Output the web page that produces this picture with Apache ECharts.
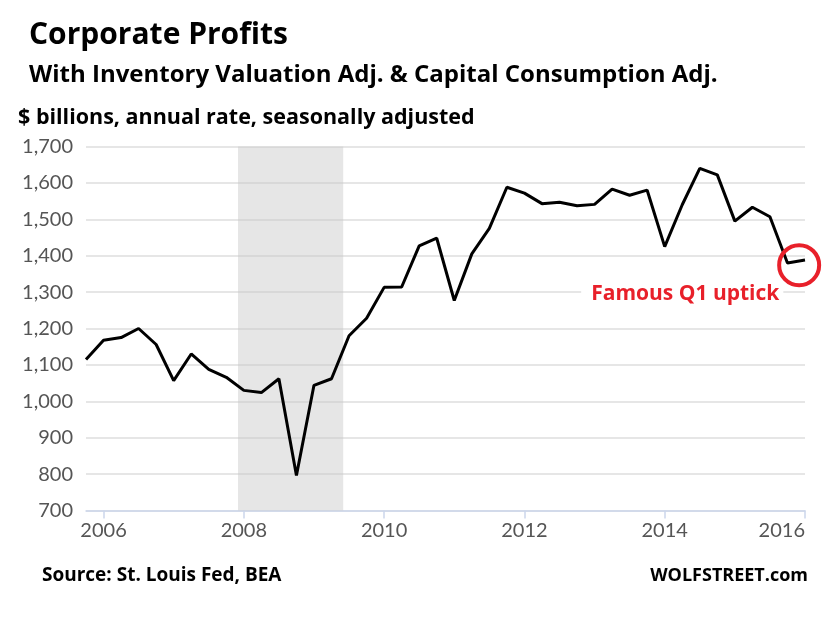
<!DOCTYPE html>
<html>
<head>
<meta charset="utf-8">
<script src="https://cdn.jsdelivr.net/npm/echarts@6/dist/echarts.min.js"></script>
<style>html,body{margin:0;padding:0;background:#fff}#c{width:840px;height:625px}</style>
</head>
<body>
<div id="c"></div>
<script>
// Quarter start dates (year-month)
const quarters = [
  '2005-10',
  '2006-01','2006-04','2006-07','2006-10',
  '2007-01','2007-04','2007-07','2007-10',
  '2008-01','2008-04','2008-07','2008-10',
  '2009-01','2009-04','2009-07','2009-10',
  '2010-01','2010-04','2010-07','2010-10',
  '2011-01','2011-04','2011-07','2011-10',
  '2012-01','2012-04','2012-07','2012-10',
  '2013-01','2013-04','2013-07','2013-10',
  '2014-01','2014-04','2014-07','2014-10',
  '2015-01','2015-04','2015-07','2015-10',
  '2016-01'
];
// Corporate profits, $ billions (annual rate, SA)
const profits = [
  1115,
  1168,1175,1200,1156,
  1057,1130,1088,1066,
  1030,1024,1062,796,
  1044,1062,1180,1228,
  1313,1314,1427,1448,
  1277,1405,1475,1588,
  1572,1543,1547,1537,
  1541,1583,1566,1580,
  1425,1540,1640,1622,
  1495,1533,1507,1380,
  1388
];
const xTickYears = [2006, 2008, 2010, 2012, 2014, 2016];
const yTicks = [700, 800, 900, 1000, 1100, 1200, 1300, 1400, 1500, 1600, 1700];
const recession = ['2007-12', '2009-06'];
const circleAt = ['2015-12', 1374];
const noteAt = ['2014-04', 1294];
const noteText = 'Famous Q1 uptick';

function toYear(s) {
  const p = s.split('-');
  return (+p[0]) + (+p[1] - 1) / 12;
}
const seriesData = quarters.map((q, i) => [toYear(q), profits[i]]);

const FONT = 'Lato';
const BFONT = '"Open Sans"';
const RED = '#e8202a';
const chart = echarts.init(document.getElementById('c'), null, {renderer: 'canvas'});
chart.setOption({
  animation: false,
  backgroundColor: '#fff',
  grid: {left: 86, right: 35, top: 146.5, bottom: 114.5},
  xAxis: {
    type: 'value',
    min: toYear(quarters[0]),
    max: toYear(quarters[quarters.length - 1]),
    axisLine: {show: true, lineStyle: {color: '#ccd6eb', width: 1.5}},
    axisTick: {show: true, length: 8, customValues: xTickYears, lineStyle: {color: '#ccd6eb', width: 1.5}},
    axisLabel: {
      customValues: xTickYears,
      alignMaxLabel: 'right',
      color: '#555',
      fontFamily: FONT,
      fontSize: 20,
      margin: 10,
      formatter: v => String(Math.round(v))
    },
    splitLine: {show: false}
  },
  yAxis: {
    type: 'value',
    min: yTicks[0],
    max: yTicks[yTicks.length - 1],
    interval: 100,
    axisLine: {show: false},
    axisTick: {show: false},
    axisLabel: {
      color: '#555',
      fontFamily: FONT,
      fontSize: 20,
      margin: 13,
      formatter: v => v.toLocaleString('en-US')
    },
    splitLine: {lineStyle: {color: '#dedede', width: 1.5}}
  },
  series: [{
    type: 'line',
    data: seriesData,
    symbol: 'none',
    lineStyle: {color: '#000', width: 3},
    z: 3,
    markArea: {
      silent: true,
      itemStyle: {color: 'rgba(200,200,200,0.45)'},
      data: [[{xAxis: toYear(recession[0])}, {xAxis: toYear(recession[1])}]]
    },
    markPoint: {
      silent: true,
      data: [
        {
          coord: [toYear(noteAt[0]), noteAt[1]],
          symbol: 'rect',
          symbolSize: 1,
          itemStyle: {color: 'rgba(0,0,0,0)'},
          label: {
            show: true,
            position: 'inside',
            formatter: noteText,
            color: RED,
            fontFamily: BFONT,
            fontWeight: 'bold',
            fontSize: 21,
            backgroundColor: '#fff',
            padding: [0, 4, 0, 10]
          }
        }
      ]
    }
  }, {
    type: 'scatter',
    data: [[toYear(circleAt[0]), circleAt[1]]],
    symbol: 'circle',
    symbolSize: 40,
    clip: false,
    silent: true,
    z: 10,
    itemStyle: {color: 'rgba(0,0,0,0)', borderColor: RED, borderWidth: 4, opacity: 1}
  }],
  graphic: [
    {type: 'text', style: {x: 29, y: 35, text: 'Corporate Profits', font: 'bold 30px ' + BFONT, fill: '#000', verticalAlign: 'middle'}},
    {type: 'text', style: {x: 29, y: 75, text: 'With Inventory Valuation Adj. & Capital Consumption Adj.', font: 'bold 24px ' + BFONT, fill: '#000', verticalAlign: 'middle'}},
    {type: 'text', style: {x: 18, y: 118, text: '$ billions, annual rate, seasonally adjusted', font: 'bold 21.5px ' + BFONT, fill: '#000', verticalAlign: 'middle'}},
    {type: 'text', style: {x: 42, y: 576, text: 'Source: St. Louis Fed, BEA', font: 'bold 19px ' + BFONT, fill: '#000', verticalAlign: 'middle'}},
    {type: 'text', style: {x: 808, y: 576, text: 'WOLFSTREET.com', font: 'bold 18px ' + BFONT, fill: '#000', align: 'right', verticalAlign: 'middle'}}
  ]
});
</script>
</body>
</html>
